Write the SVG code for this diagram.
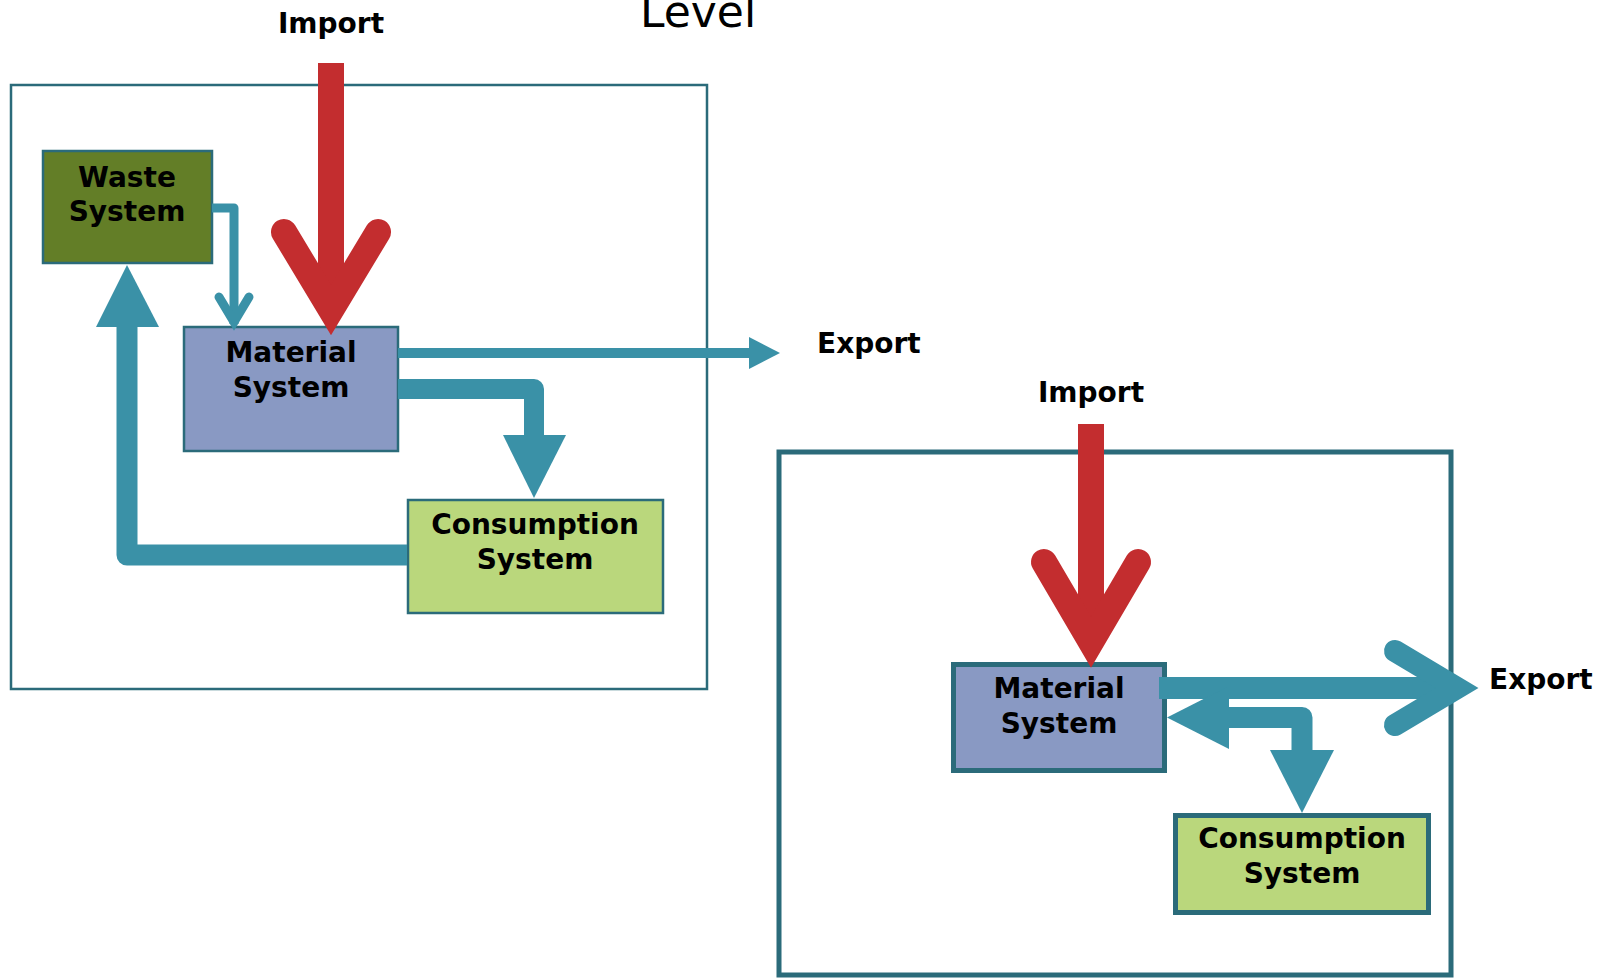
<svg xmlns="http://www.w3.org/2000/svg" width="1608" height="978" viewBox="0 0 1608 978">
<style>
.frame{fill:none;stroke:#2B6B7A}
.node{stroke:#2B6B7A}
.mat{fill:#8999C3}
.waste{fill:#637E27}
.cons{fill:#BAD77C}
.lbl{font-family:"DejaVu Sans","Verdana",sans-serif;font-weight:bold;font-size:28px;fill:#000}
.mid{text-anchor:middle}
.flow{fill:none;stroke:#3A91A7;stroke-linejoin:round}
.head{fill:#3A91A7}
.chev{fill:none;stroke-linecap:round;stroke-linejoin:miter}
.red{fill:#C32D2F}
</style>
<rect width="1608" height="978" fill="#fff"/>
<text x="640" y="27" font-family="DejaVu Sans, Verdana, sans-serif" font-size="44" fill="#000">Level</text>
<g id="frames">
<rect class="frame" x="11" y="85" width="696" height="604" stroke-width="2.5"/>
<rect class="frame" x="779" y="452" width="672" height="523" stroke-width="5"/>
</g>
<g id="waste1">
<rect class="node waste" x="43" y="151" width="169" height="112" stroke-width="2.5"/>
<text class="lbl mid" x="127" y="187">Waste</text>
<text class="lbl mid" x="127" y="221">System</text>
</g>
<g id="material1">
<rect class="node mat" x="184" y="327" width="214" height="124" stroke-width="2.5"/>
<text class="lbl mid" x="291" y="362">Material</text>
<text class="lbl mid" x="291" y="397">System</text>
</g>
<g id="consumption1">
<rect class="node cons" x="408" y="500" width="255" height="113" stroke-width="2.5"/>
<text class="lbl mid" x="535" y="534">Consumption</text>
<text class="lbl mid" x="535" y="569">System</text>
</g>
<g id="material2">
<rect class="node mat" x="953.5" y="664.5" width="211" height="106" stroke-width="5"/>
<text class="lbl mid" x="1059" y="698">Material</text>
<text class="lbl mid" x="1059" y="733">System</text>
</g>
<g id="consumption2">
<rect class="node cons" x="1175.5" y="815.5" width="253" height="97" stroke-width="5"/>
<text class="lbl mid" x="1302" y="848">Consumption</text>
<text class="lbl mid" x="1302" y="883">System</text>
</g>
<g id="connectors">
<!-- diagram 1 -->
<path class="flow" d="M212,208 H234 V324" stroke-width="9"/>
<path class="chev" d="M219,297 L234,322 L249,297" stroke="#3A91A7" stroke-width="9"/>
<path class="flow" d="M398,389 H534 V436" stroke-width="20"/>
<polygon class="head" points="503,435 566,435 534,498"/>
<path class="flow" d="M407,555 H127 V326" stroke-width="21"/>
<polygon class="head" points="96,327 159,327 127,265"/>
<path class="flow" d="M398,353 H750" stroke-width="10"/>
<polygon class="head" points="749,337 780,353 749,369"/>
<rect class="red" x="318" y="63" width="26" height="250"/>
<path class="chev" d="M284,232 L331,310 L378,232" stroke="#C32D2F" stroke-width="26"/>
<!-- diagram 2 -->
<rect class="red" x="1078" y="424" width="26" height="220"/>
<path class="chev" d="M1044,562 L1091,642 L1138,562" stroke="#C32D2F" stroke-width="26"/>
<path class="flow" d="M1159,688 H1458" stroke-width="22"/>
<path class="chev" d="M1395,651 L1457,688 L1395,725" stroke="#3A91A7" stroke-width="22"/>
<path class="flow" d="M1228,717.5 H1302 V751" stroke-width="21"/>
<polygon class="head" points="1229,686 1229,749 1167,717.5"/>
<polygon class="head" points="1270,750 1334,750 1302,813"/>
</g>
<g id="labels">
<text class="lbl mid" x="331" y="33">Import</text>
<text class="lbl mid" x="1091" y="402">Import</text>
<text class="lbl" x="817" y="353">Export</text>
<text class="lbl" x="1489" y="689">Export</text>
</g>
</svg>
